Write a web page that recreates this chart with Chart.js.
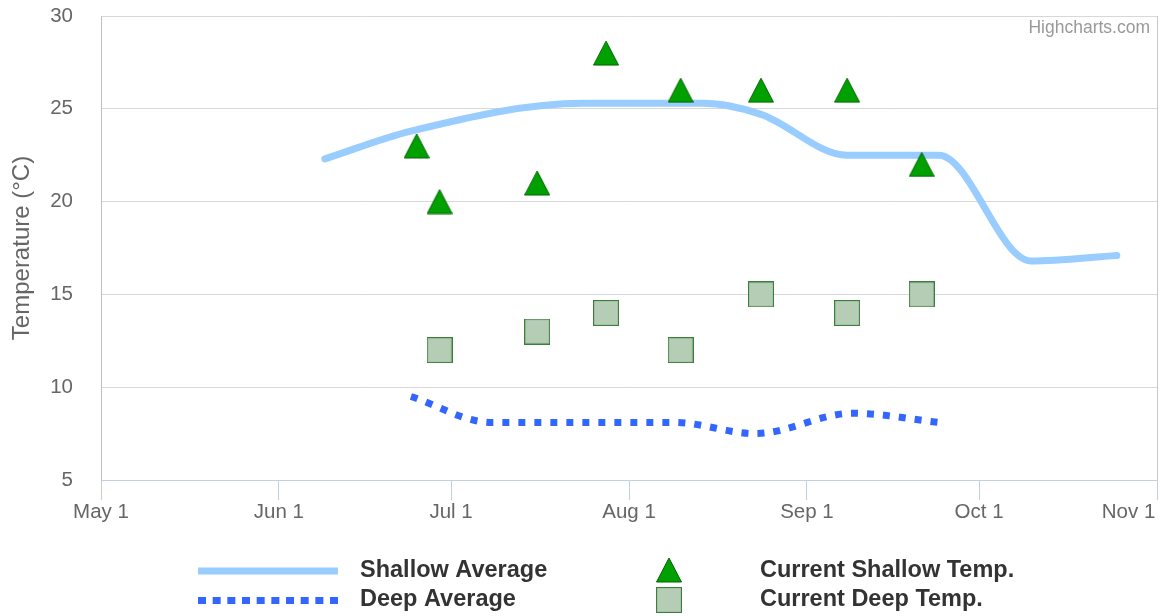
<!DOCTYPE html>
<html>
<head>
<meta charset="utf-8">
<script src="https://cdn.jsdelivr.net/npm/chart.js@4.4.0/dist/chart.umd.min.js"></script>
<style>
  body { margin: 0; background: #fff; }
  #wrap { width: 1160px; height: 616px; position: relative; }
</style>
</head>
<body>
<div id="wrap"><canvas id="chart"></canvas></div>
<script>
// x positions are days since May 1
const monthTicks = ['2023-05-01', '2023-06-01', '2023-07-01', '2023-08-01', '2023-09-01', '2023-10-01', '2023-11-01'];
const monthLabels = ['May 1', 'Jun 1', 'Jul 1', 'Aug 1', 'Sep 1', 'Oct 1', 'Nov 1'];

const shallowAvgDates = ['2023-06-09', '2023-06-24', '2023-07-24', '2023-08-14', '2023-08-24', '2023-09-08', '2023-09-24', '2023-10-10', '2023-10-25'];
const shallowAvgValues = [22.3, 23.8, 25.3, 25.3, 24.7, 22.5, 22.5, 16.8, 17.1];

const deepAvgDates = ['2023-06-24', '2023-07-08', '2023-08-09', '2023-08-23', '2023-09-09', '2023-09-24'];
const deepAvgValues = [9.5, 8.1, 8.1, 7.5, 8.6, 8.1];

const shallowDates = ['2023-06-25', '2023-06-29', '2023-07-16', '2023-07-28', '2023-08-10', '2023-08-24', '2023-09-08', '2023-09-21'];
const shallowValues = [23, 20, 21, 28, 26, 26, 26, 22];

const deepDates = ['2023-06-29', '2023-07-16', '2023-07-28', '2023-08-10', '2023-08-24', '2023-09-08', '2023-09-21'];
const deepValues = [12, 13, 14, 12, 15, 14, 15];

const FONT = '"Liberation Sans", Arial, sans-serif';

function dayOf(s) {
  const [y, m, d] = s.split('-').map(Number);
  return (Date.UTC(y, m - 1, d) - Date.UTC(2023, 4, 1)) / 86400000;
}
const toPoints = (dates, vals) => dates.map((d, i) => ({ x: dayOf(d), y: vals[i] }));
const tickDays = monthTicks.map(dayOf);

// marker images
function triangleImg() {
  const c = document.createElement('canvas');
  c.width = 26; c.height = 26;
  const g = c.getContext('2d');
  g.beginPath();
  g.moveTo(13, 1);
  g.lineTo(25.5, 25);
  g.lineTo(0.5, 25);
  g.closePath();
  g.fillStyle = '#00a000';
  g.fill();
  g.strokeStyle = '#006400';
  g.lineWidth = 1;
  g.stroke();
  return c;
}
function squareImg() {
  const c = document.createElement('canvas');
  c.width = 26; c.height = 26;
  const g = c.getContext('2d');
  g.fillStyle = '#b4cdb4';
  g.fillRect(0.5, 0.5, 25, 25);
  g.strokeStyle = '#3c7c3c';
  g.lineWidth = 1.2;
  g.strokeRect(0.5, 0.5, 25, 25);
  return c;
}
const tri = triangleImg();
const sq = squareImg();

const extras = {
  id: 'extras',
  afterDraw(chart) {
    const ctx = chart.ctx;
    const a = chart.chartArea;
    ctx.save();
    // right plot border
    ctx.strokeStyle = '#c8c8c8';
    ctx.lineWidth = 1;
    ctx.beginPath();
    ctx.moveTo(a.right + 0.5, a.top);
    ctx.lineTo(a.right + 0.5, a.bottom);
    ctx.stroke();

    // credit
    ctx.font = '17.5px ' + FONT;
    ctx.fillStyle = '#999';
    ctx.textAlign = 'right';
    ctx.textBaseline = 'middle';
    ctx.fillText('Highcharts.com', 1150, 28);

    // legend
    const ds = chart.data.datasets;
    ctx.lineCap = 'butt';
    ctx.strokeStyle = ds[2].borderColor;
    ctx.lineWidth = 7;
    ctx.beginPath();
    ctx.moveTo(198, 571);
    ctx.lineTo(338, 571);
    ctx.stroke();

    ctx.strokeStyle = ds[3].borderColor;
    ctx.setLineDash([8, 6.67]);
    ctx.beginPath();
    ctx.moveTo(198, 600.5);
    ctx.lineTo(338, 600.5);
    ctx.stroke();
    ctx.setLineDash([]);

    ctx.drawImage(tri, 656, 557);
    ctx.drawImage(sq, 656, 587);

    ctx.font = 'bold 23.5px ' + FONT;
    ctx.fillStyle = '#333';
    ctx.textAlign = 'left';
    ctx.fillText(ds[2].label, 360, 571);
    ctx.fillText(ds[3].label, 360, 600);
    ctx.fillText(ds[0].label, 760, 571);
    ctx.fillText(ds[1].label, 760, 600);
    ctx.restore();
  }
};

new Chart(document.getElementById('chart'), {
  type: 'line',
  data: {
    datasets: [
      {
        label: 'Current Shallow Temp.',
        data: toPoints(shallowDates, shallowValues),
        showLine: false,
        pointStyle: tri,
        pointRadius: 12,
        order: 0
      },
      {
        label: 'Current Deep Temp.',
        data: toPoints(deepDates, deepValues),
        showLine: false,
        pointStyle: sq,
        pointRadius: 12,
        order: 1
      },
      {
        label: 'Shallow Average',
        data: toPoints(shallowAvgDates, shallowAvgValues),
        borderColor: '#99ccff',
        borderWidth: 7,
        borderCapStyle: 'round',
        borderJoinStyle: 'round',
        cubicInterpolationMode: 'monotone',
        pointRadius: 0,
        order: 2
      },
      {
        label: 'Deep Average',
        data: toPoints(deepAvgDates, deepAvgValues),
        borderColor: '#3366ff',
        borderWidth: 7,
        borderDash: [7, 9],
        borderCapStyle: 'butt',
        cubicInterpolationMode: 'monotone',
        pointRadius: 0,
        order: 3
      }
    ]
  },
  options: {
    responsive: true,
    maintainAspectRatio: false,
    animation: false,
    layout: { autoPadding: false, padding: { top: 16, right: 3, left: 0, bottom: 0 } },
    plugins: { legend: { display: false }, tooltip: { enabled: false } },
    scales: {
      x: {
        type: 'linear',
        min: tickDays[0],
        max: tickDays[tickDays.length - 1],
        afterBuildTicks: (scale) => { scale.ticks = tickDays.map(v => ({ value: v })); },
        afterFit: (scale) => {
          scale.height = 136;
          scale.paddingLeft = 0;
          scale.paddingRight = 0;
        },
        grid: { drawOnChartArea: false, drawTicks: true, tickLength: 20, tickColor: '#c0d0e0' },
        border: { color: '#c0d0e0', width: 1 },
        ticks: {
          padding: 0,
          color: '#666',
          font: { family: FONT, size: 20.5 },
          maxRotation: 0,
          autoSkip: false,
          callback: (v) => {
            const i = tickDays.indexOf(v);
            // last label sits inside the chart edge
            return i === tickDays.length - 1 ? monthLabels[i] + '\u00a0'.repeat(10) : monthLabels[i];
          }
        }
      },
      y: {
        min: 5,
        max: 30,
        afterFit: (scale) => {
          scale.width = 101;
          scale.paddingTop = 0;
          scale.paddingBottom = 0;
        },
        grid: { color: '#d8d8d8', drawTicks: false },
        border: { color: '#c0c0c0', width: 1 },
        ticks: {
          stepSize: 5,
          padding: 28,
          color: '#666',
          font: { family: FONT, size: 20.5 }
        },
        title: {
          display: true,
          text: 'Temperature (°C)',
          color: '#666',
          font: { family: FONT, size: 24, lineHeight: 1.2 },
          padding: { top: 8, bottom: 0 }
        }
      }
    }
  },
  plugins: [extras]
});
</script>
</body>
</html>
